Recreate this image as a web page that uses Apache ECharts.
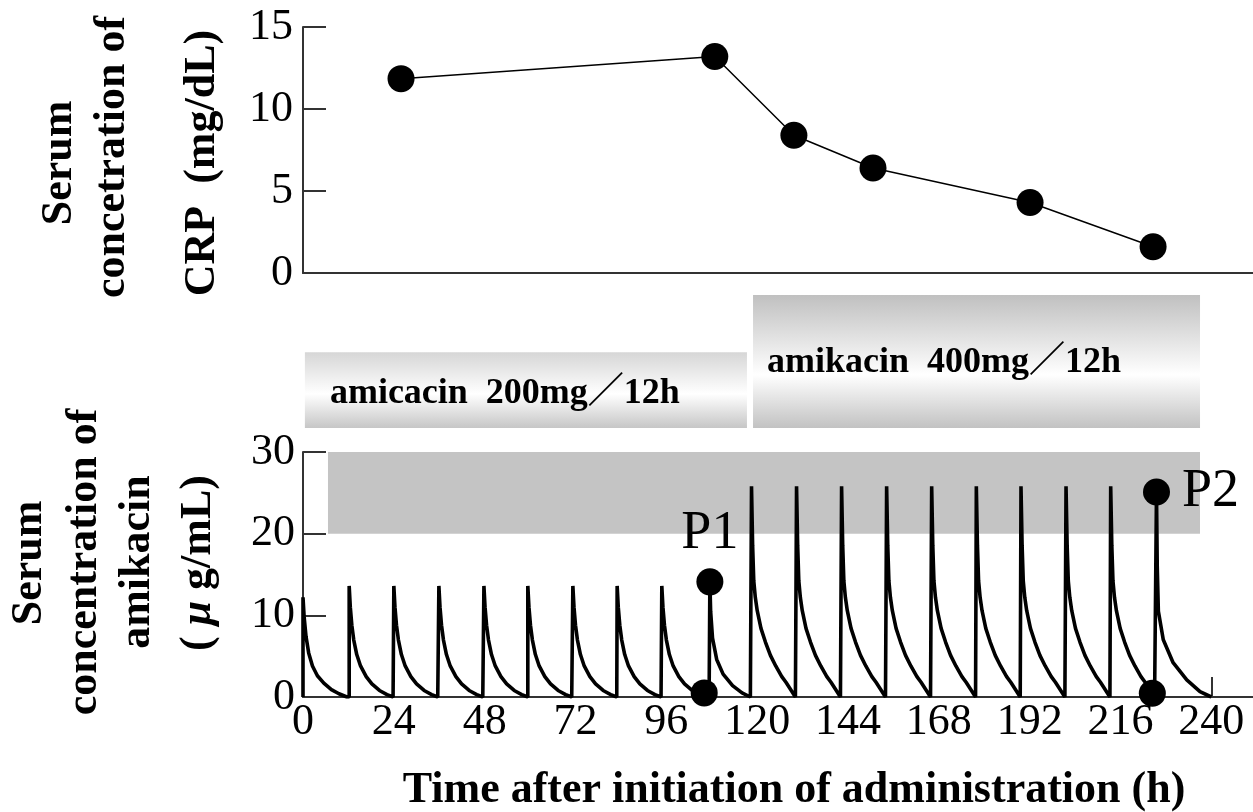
<!DOCTYPE html>
<html>
<head>
<meta charset="utf-8">
<script src="https://cdn.jsdelivr.net/npm/echarts@6/dist/echarts.min.js"></script>
<style>
html, body { margin: 0; padding: 0; background: #fff; }
#main { width: 1253px; height: 812px; }
</style>
</head>
<body>
<div id="main"></div>
<script>
var main = echarts.init(document.getElementById('main'));

// CRP, top panel
var crpTime = [25.9, 108.8, 129.7, 150.6, 192.1, 224.6];
var crpValue = [11.85, 13.2, 8.4, 6.4, 4.3, 1.6];

// dose times as drawn (h)
var dose200 = [0, 12.2, 24.0, 35.9, 47.8, 59.4, 71.3, 83.0, 94.8];
var dose400 = [118.5, 130.4, 142.3, 154.2, 166.1, 177.9, 189.7, 201.6, 213.4];

// one interval after a dose: [hours after dose, ug/mL]
var firstCurve = [[0, 12.2], [0.3, 9.8], [0.8, 7.4], [1.5, 5.4], [2.5, 3.8], [3.8, 2.6], [5.5, 1.7], [7.5, 0.9], [9.5, 0.4], [11.6, 0]];
var curve200 = [[0, 13.6], [0.3, 11.0], [0.7, 8.8], [1.2, 7.0], [2, 5.2], [3, 3.8], [4.5, 2.5], [6, 1.6], [8, 0.8], [10, 0.3], [11.6, 0]];
var curve400 = [[0, 25.8], [0.3, 18.5], [0.6, 14.2], [1, 12.2], [1.5, 10.6], [2.5, 8.4], [3.7, 6.7], [5, 5.1], [6.4, 3.8], [8, 2.5], [9.1, 1.8], [10.5, 0.8], [11.6, 0]];
// the two sampled intervals (absolute hours)
var p1Curve = [[107.3, 0], [107.5, 14.1], [107.7, 10.5], [108.2, 7.2], [109.3, 4.6], [111, 2.8], [113.5, 1.4], [116, 0.5], [118.2, 0]];
var p2Curve = [[225.5, 0], [225.5, 25.1], [225.7, 16], [226.0, 10.5], [227.3, 7.0], [229.9, 4.2], [233.5, 2.1], [237.0, 0.65], [240, 0]];

var p1Points = [[106.0, 0.5], [107.5, 14.1]];
var p2Points = [[224.4, 0.45], [225.5, 25.1]];

// target peak range (grey band): x from, x to, y from, y to
var targetRange = [6.6, 237, 20, 30];

// dosing bars
var barStart = [0.5, 118.9];
var barEnd = [117.3, 237];
var barTop = [0.57, 1];
var barText = ['amicacin  200mg\uff0f12h', 'amikacin  400mg\uff0f12h'];
var barTextPad = [25, 14];

var xTicks = [0, 24, 48, 72, 96, 120, 144, 168, 192, 216, 240];

var serif = '"Liberation Serif", "Times New Roman", serif';

// build the concentration line
var amk = [];
function addCycle(t0, curve) {
	amk.push([t0, 0]);
	for (var i = 0; i < curve.length; i++) {
		amk.push([t0 + curve[i][0], curve[i][1]]);
	}
}
addCycle(dose200[0], firstCurve);
for (var i = 1; i < dose200.length; i++) addCycle(dose200[i], curve200);
for (var i = 0; i < p1Curve.length; i++) amk.push(p1Curve[i]);
for (var i = 0; i < dose400.length; i++) addCycle(dose400[i], curve400);
for (var i = 0; i < p2Curve.length; i++) amk.push(p2Curve[i]);

var crpData = [];
for (var i = 0; i < crpTime.length; i++) crpData.push([crpTime[i], crpValue[i]]);

var barData = [];
for (var i = 0; i < barStart.length; i++) barData.push([barStart[i], barEnd[i], barTop[i], i]);

var gradients = [
	[{ offset: 0, color: '#d6d6d6' }, { offset: 0.55, color: '#ffffff' }, { offset: 1, color: '#c6c6c6' }],
	[{ offset: 0, color: '#c0c0c0' }, { offset: 0.6, color: '#ffffff' }, { offset: 1, color: '#c2c2c2' }]
];

var axisLine = { show: true, lineStyle: { color: '#333', width: 2 } };
var tickLabel = { fontSize: 44, fontFamily: serif, color: '#000' };

function title(text, x, y) {
	return {
		type: 'text', x: x, y: y, rotation: Math.PI / 2,
		style: { text: text, font: 'bold 44px ' + serif, fill: '#000', align: 'center', verticalAlign: 'middle' }
	};
}

option = {
	animation: false,
	backgroundColor: '#fff',
	grid: [
		{ left: 303, top: 27, width: 950, height: 246 },
		{ left: 303, top: 295, width: 950, height: 133 },
		{ left: 303, top: 452, width: 950, height: 245 }
	],
	xAxis: [
		{ type: 'value', gridIndex: 0, min: 0, max: 251, axisLine: axisLine, axisTick: { show: false }, axisLabel: { show: false }, splitLine: { show: false } },
		{ type: 'value', gridIndex: 1, min: 0, max: 251, show: false },
		{
			type: 'value', gridIndex: 2, min: 0, max: 251, axisLine: axisLine,
			axisTick: { show: true, inside: true, length: 20, customValues: [240], lineStyle: { color: '#333', width: 2 } },
			axisLabel: Object.assign({ customValues: xTicks, margin: 3 }, tickLabel),
			splitLine: { show: false }
		}
	],
	yAxis: [
		{
			type: 'value', gridIndex: 0, min: 0, max: 15, interval: 5, axisLine: axisLine,
			axisTick: { inside: true, length: 23, lineStyle: { color: '#333', width: 2 } },
			axisLabel: Object.assign({ margin: 10 }, tickLabel), splitLine: { show: false }
		},
		{ type: 'value', gridIndex: 1, min: 0, max: 1, show: false },
		{
			type: 'value', gridIndex: 2, min: 0, max: 30, interval: 10, axisLine: axisLine,
			axisTick: { inside: true, length: 23, lineStyle: { color: '#333', width: 2 } },
			axisLabel: Object.assign({ margin: 8 }, tickLabel), splitLine: { show: false }
		}
	],
	graphic: [
		title('Serum', 60, 163),
		title('concetration of', 113, 157),
		title('CRP  (mg/dL)', 203, 163),
		title('Serum', 30, 563),
		title('concentration of', 85, 562),
		title('amikacin', 138, 562),
		{
			type: 'text', x: 199, y: 563, rotation: Math.PI / 2,
			style: {
				text: '{p|( }{mu|\u03bc}{p| g/mL)}', align: 'center', verticalAlign: 'middle',
				rich: {
					p: { font: 'bold 44px ' + serif, fill: '#000' },
					mu: { font: 'italic bold 44px ' + serif, fill: '#000' }
				}
			}
		},
		{
			type: 'text', x: 794, y: 791,
			style: { text: 'Time after initiation of administration (h)', font: 'bold 44px ' + serif, fill: '#000', align: 'center', verticalAlign: 'middle' }
		}
	],
	series: [
		{
			type: 'line', xAxisIndex: 0, yAxisIndex: 0, data: crpData,
			symbol: 'circle', symbolSize: 27,
			lineStyle: { color: '#000', width: 1.5 }, itemStyle: { color: '#000', opacity: 1 }
		},
		{
			type: 'custom', xAxisIndex: 1, yAxisIndex: 1, data: barData, silent: true,
			renderItem: function (params, api) {
				var p0 = api.coord([api.value(0), api.value(2)]);
				var p1 = api.coord([api.value(1), 0]);
				var k = api.value(3);
				return {
					type: 'group',
					children: [
						{
							type: 'rect',
							shape: { x: p0[0], y: p0[1], width: p1[0] - p0[0], height: p1[1] - p0[1] },
							style: { fill: new echarts.graphic.LinearGradient(0, 0, 0, 1, gradients[k]) }
						},
						{
							type: 'text',
							style: {
								text: barText[k], x: p0[0] + barTextPad[k], y: (p0[1] + p1[1]) / 2 + (k === 0 ? 4 : 1),
								font: 'bold 36px ' + serif + ', "Noto Sans CJK JP"', fill: '#000',
								align: 'left', verticalAlign: 'middle'
							}
						}
					]
				};
			}
		},
		{
			type: 'line', xAxisIndex: 2, yAxisIndex: 2, data: amk,
			showSymbol: false, symbol: 'none',
			lineStyle: { color: '#000', width: 3.6 },
			markArea: {
				silent: true,
				itemStyle: { color: '#c4c4c4' },
				data: [[{ coord: [targetRange[0], targetRange[3]] }, { coord: [targetRange[1], targetRange[2]] }]]
			}
		},
		{
			type: 'scatter', xAxisIndex: 2, yAxisIndex: 2,
			symbol: 'circle', symbolSize: 27, itemStyle: { color: '#000', opacity: 1 }, z: 5,
			label: { fontFamily: serif, fontSize: 54, color: '#000' },
			data: [
				{ value: p1Points[0] },
				{ value: p1Points[1], label: { show: true, formatter: 'P1', position: 'top', distance: 8 } },
				{ value: p2Points[0] },
				{ value: p2Points[1], label: { show: true, formatter: 'P2', position: 'right', distance: 12 } }
			]
		}
	]
};
main.setOption(option);
</script>
</body>
</html>
